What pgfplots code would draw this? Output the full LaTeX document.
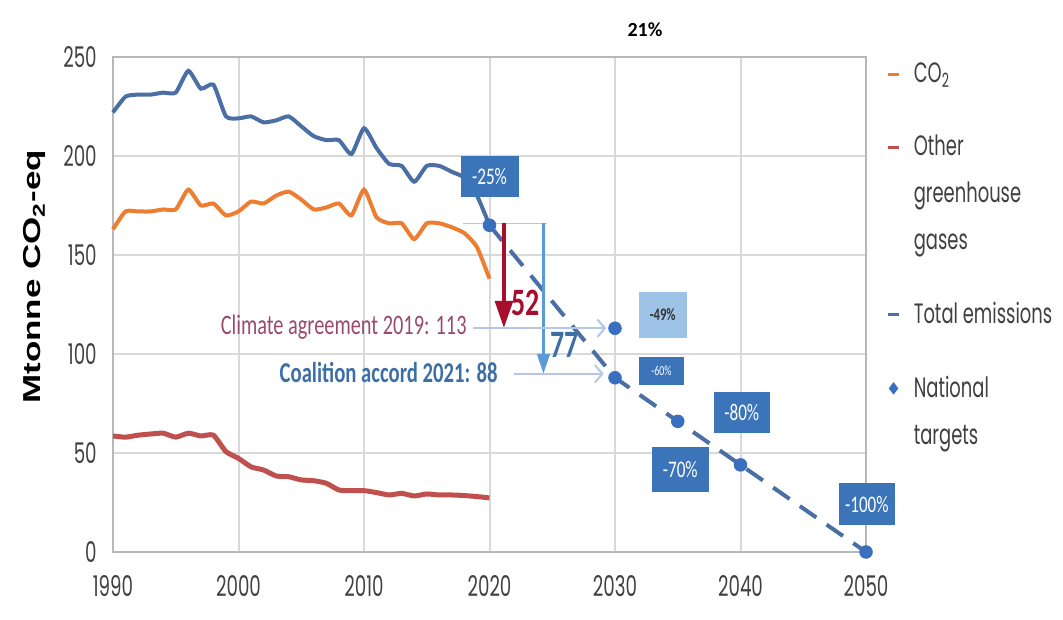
\documentclass[border=0pt]{standalone}
\usepackage{fontspec}
\setmainfont{Carlito}
\newfontfamily\tickfont[FakeStretch=0.64]{Poppins}
\newfontfamily\cfont[FakeStretch=0.72]{Carlito}
\newfontfamily\labfont{Liberation Sans}
\usepackage{pgfplots}
\pgfplotsset{compat=1.18}
\usetikzlibrary{arrows.meta}

\definecolor{co2}{HTML}{ED7D31}
\definecolor{ghg}{HTML}{C0504D}
\definecolor{tot}{HTML}{4A6FA5}
\definecolor{tgt}{HTML}{3A6FC0}
\definecolor{boxblue}{HTML}{3B74B9}
\definecolor{boxlight}{HTML}{9DC3E6}
\definecolor{darkred}{HTML}{A50F2D}
\definecolor{arrblue}{HTML}{5B9BD5}
\definecolor{thinline}{HTML}{B4C7E7}
\definecolor{purp}{HTML}{9A4A6E}
\definecolor{coal}{HTML}{3D6FA6}
\definecolor{txt}{HTML}{404040}
\definecolor{gridc}{HTML}{D9D9D9}

% legend images: the dash sits on the first line of the entry
\pgfplotsset{
    dash1/.style={legend image code/.code={\draw[##1, line width=1.2pt] (0pt,0pt) -- (4.5pt,0pt); \path (7.3pt,0pt);}},
    dash3/.style={legend image code/.code={\draw[##1, line width=1.2pt] (0pt,18.8pt) -- (4.5pt,18.8pt); \path (7.3pt,0pt);}},
    mark2/.style={legend image code/.code={\path[##1] plot[mark=diamond*, mark size=2.2pt] coordinates {(2.2pt,9.4pt)}; \path (7.3pt,0pt);}},
}

\begin{document}
\begin{tikzpicture}
\path[use as bounding box] (0pt,0pt) rectangle (425.2pt,248pt);
\begin{axis}[
    at={(45.2pt,27.2pt)}, anchor=south west,
    scale only axis, width=301.2pt, height=198pt,
    xmin=1990, xmax=2050, ymin=0, ymax=250,
    xtick={1990,2000,...,2050}, ytick={0,50,...,250},
    grid=major,
    major grid style={draw=gridc, line width=0.8pt},
    axis line style={draw=gridc!85!black, line width=0.8pt},
    major tick length=0pt,
    ticklabel style={font=\tickfont\fontsize{11.4}{12}\selectfont, text=txt},
    yticklabel style={xshift=-3pt},
    xticklabel style={yshift=-6pt},
    /pgf/number format/assume math mode=true,
    /pgf/number format/1000 sep={},
    scaled ticks=false,
    ylabel={Mtonne CO\textsubscript{2}-eq},
    ylabel style={at={(axis description cs:-0.1036,0.556)}, anchor=center,
        font=\labfont\bfseries\fontsize{14}{15}\selectfont, yscale=0.7},
    clip=false,
    legend cell align=left,
    legend style={draw=none, fill=none,
        at={(axis description cs:1.0167,1.01)}, anchor=north west,
        font=\tickfont\fontsize{11.2}{18.8}\selectfont, text=txt,
        row sep=15.5pt, cells={align=left}},
]
% CO2
\addplot[co2, line width=1.6pt, smooth, tension=0.35, dash1]
coordinates {
(1990,163) (1991,172) (1992,172) (1993,172) (1994,173) (1995,173)
(1996,183) (1997,175) (1998,176) (1999,170) (2000,172) (2001,177)
(2002,176) (2003,180) (2004,182) (2005,178) (2006,173) (2007,174)
(2008,176) (2009,170) (2010,183) (2011,169) (2012,166) (2013,166)
(2014,158) (2015,166) (2016,166) (2017,164) (2018,161) (2019,154)
(2020,138)
};
\addlegendentry{CO\textsubscript{2}}
% other greenhouse gases
\addplot[ghg, line width=2pt, smooth, tension=0.35, dash3]
coordinates {
(1990,58.6) (1991,58) (1992,59) (1993,59.6) (1994,60) (1995,58)
(1996,60) (1997,58.6) (1998,59) (1999,50.7) (2000,47.3) (2001,43)
(2002,41.4) (2003,38.4) (2004,38) (2005,36.4) (2006,36) (2007,34.7)
(2008,31.3) (2009,31) (2010,31) (2011,30) (2012,28.8) (2013,29.6)
(2014,28.3) (2015,29.3) (2016,28.8) (2017,28.8) (2018,28.5) (2019,28)
(2020,27.3)
};
\addlegendentry{Other\\greenhouse\\gases}
% total
\addplot[tot, line width=1.6pt, smooth, tension=0.35, dash1]
coordinates {
(1990,222) (1991,230) (1992,231) (1993,231) (1994,232) (1995,232)
(1996,243) (1997,234) (1998,236) (1999,220) (2000,219) (2001,220)
(2002,217) (2003,218) (2004,220) (2005,215) (2006,210) (2007,208)
(2008,208) (2009,201) (2010,214) (2011,204) (2012,196) (2013,195)
(2014,187) (2015,195) (2016,195) (2017,192) (2018,189) (2019,180)
(2020,165)
};
\addlegendentry{Total emissions}
\addplot[tot, line width=1.6pt, dash pattern=on 8pt off 5pt, forget plot]
coordinates {(2020,165) (2030,88) (2035,66) (2040,44) (2050,0)};
% national targets
\addplot[only marks, mark=*, mark size=2.5pt, tgt, mark2]
coordinates {(2020,165) (2030,113) (2030,88) (2035,66) (2040,44) (2050,0)};
\addlegendentry{National\\targets}

% annotations
\draw[thinline, line width=0.6pt] (axis cs:2017.9,166) -- (axis cs:2024.6,166);
\draw[darkred, line width=1.8pt, -{Triangle[width=7pt,length=11pt]}]
    (axis cs:2021.15,166) -- (axis cs:2021.15,113);
\draw[arrblue, line width=1.2pt, -{Triangle[width=5pt,length=8pt]}]
    (axis cs:2024.3,166) -- (axis cs:2024.3,90);
\node[darkred, font=\cfont\bfseries\fontsize{15.5}{16}\selectfont] at (axis cs:2022.9,126) {52};
\node[coal, font=\cfont\bfseries\fontsize{15.5}{16}\selectfont] at (axis cs:2026,104.5) {77};
\draw[thinline, line width=0.8pt, -{Straight Barb[length=3pt,width=7pt]}]
    (axis cs:2018.7,113) -- (axis cs:2029.3,113);
\node[purp, anchor=east, inner sep=0pt, font=\cfont\fontsize{11.3}{12}\selectfont]
    at (axis cs:2018.21,113.5) {Climate agreement 2019: 113};
\draw[thinline, line width=0.8pt, -{Straight Barb[length=3pt,width=7pt]}]
    (axis cs:2021.95,90) -- (axis cs:2029.1,90);
\node[coal, anchor=east, inner sep=0pt, font=\cfont\bfseries\fontsize{11.5}{12}\selectfont]
    at (axis cs:2020.68,90.5) {Coalition accord 2021: 88};

\tikzset{pbox/.style={fill=boxblue, text=white, inner sep=0pt,
    font=\cfont\fontsize{9.5}{10}\selectfont}}
\node[pbox, minimum width=23.2pt, minimum height=16.4pt] at (axis cs:2020,189.4) {-25\%};
\node[pbox, fill=boxlight, text=black!80, minimum width=19.2pt, minimum height=18.4pt,
    font=\cfont\bfseries\fontsize{7}{8}\selectfont] at (axis cs:2033.8,119.7) {-49\%};
\node[pbox, minimum width=18pt, minimum height=11.2pt,
    font=\cfont\fontsize{5.5}{6}\selectfont] at (axis cs:2033.7,91.4) {-60\%};
\node[pbox, minimum width=22.8pt, minimum height=18pt] at (axis cs:2035.2,41.7) {-70\%};
\node[pbox, minimum width=22.4pt, minimum height=16.4pt] at (axis cs:2040.1,70.5) {-80\%};
\node[pbox, minimum width=22.4pt, minimum height=16.8pt] at (axis cs:2050.07,24.2) {-100\%};

\node[font=\bfseries\fontsize{8}{9}\selectfont] at (axis description cs:0.7065,1.0545) {21\%};
\end{axis}
\end{tikzpicture}
\end{document}
